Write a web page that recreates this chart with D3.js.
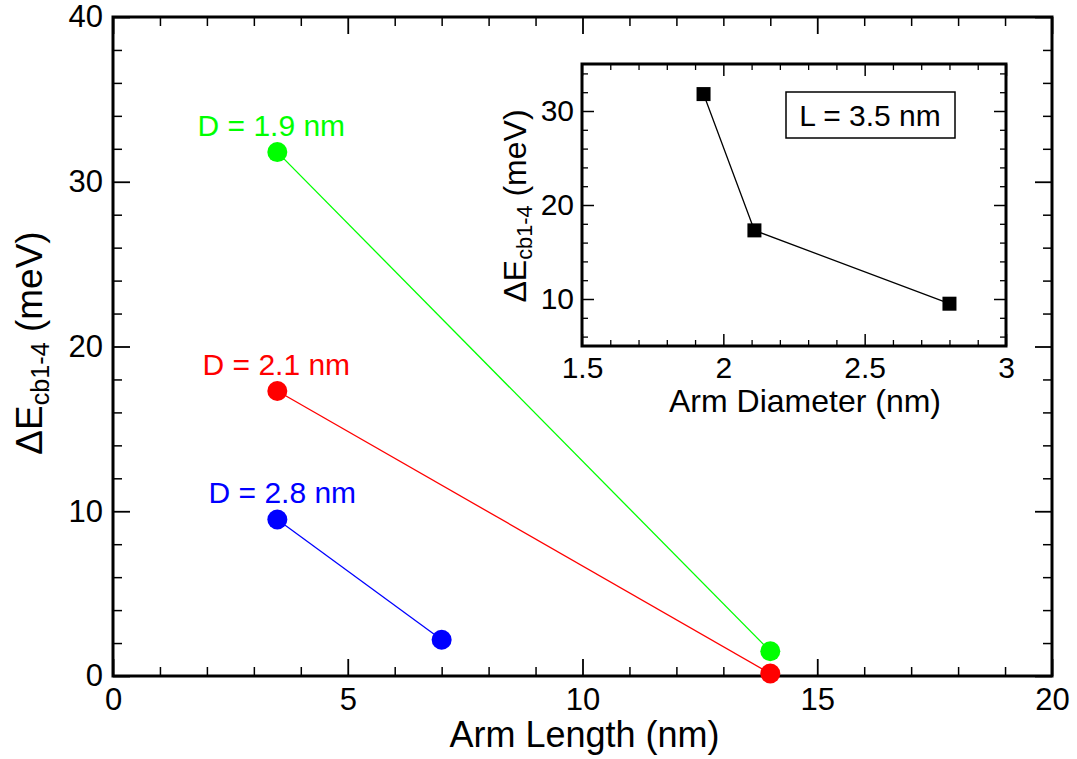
<!DOCTYPE html>
<html>
<head>
<meta charset="utf-8">
<script src="https://cdn.jsdelivr.net/npm/d3@7"></script>
<style>
  body { margin: 0; background: #fff; }
  text { font-family: "Liberation Sans", Arial, sans-serif; fill: #000; }
  .tick line { stroke: #000; }
</style>
</head>
<body>
<div id="container"></div>
<script>
// main chart data: arm length (nm) vs delta E (meV), one series per diameter
var seriesNames = ["D = 1.9 nm", "D = 2.1 nm", "D = 2.8 nm"];
var seriesColors = ["#00ff00", "#ff0000", "#0000ff"];
var lengthD19 = [3.5, 14];
var energyD19 = [31.8, 1.5];
var lengthD21 = [3.5, 14];
var energyD21 = [17.3, 0.15];
var lengthD28 = [3.5, 7];
var energyD28 = [9.5, 2.2];

// inset data: L = 3.5 nm
var insetDiameter = [1.93, 2.11, 2.8];
var insetEnergy = [31.8, 17.3, 9.5];

var xTicks = [0, 5, 10, 15, 20];
var yTicks = [0, 10, 20, 30, 40];
var insetXTicks = [1.5, 2, 2.5, 3];
var insetYTicks = [10, 20, 30];

var w = 1077,
  h = 759;

var svg = d3.select("#container").append("svg")
  .attr("width", w)
  .attr("height", h);

var m = { left: 113, top: 17, right: 1052, bottom: 676 };

var x = d3.scaleLinear().domain([0, 20]).range([m.left, m.right]);
var y = d3.scaleLinear().domain([0, 40]).range([m.bottom, m.top]);

var xMinor = d3.range(0, 21, 1).filter(d => d % 5 !== 0);
var yMinor = d3.range(0, 41, 2).filter(d => d % 10 !== 0);

function styleAxis(g, fontSize, width) {
  g.select(".domain").remove();
  g.selectAll(".tick line").attr("stroke-width", width);
  g.selectAll(".tick text").attr("font-size", fontSize).attr("font-family", null);
}

// main axes, ticks inward on all four sides
svg.append("g").attr("transform", "translate(0," + m.bottom + ")")
  .call(d3.axisBottom(x).tickValues(xTicks).tickSize(-17).tickPadding(12).tickFormat(d => d))
  .call(g => styleAxis(g, 31, 1.8));
svg.append("g").attr("transform", "translate(0," + m.bottom + ")")
  .call(d3.axisBottom(x).tickValues(xMinor).tickSize(-9).tickFormat(""))
  .call(g => styleAxis(g, 31, 1.5));
svg.append("g").attr("transform", "translate(0," + m.top + ")")
  .call(d3.axisTop(x).tickValues(xTicks).tickSize(-17).tickFormat(""))
  .call(g => styleAxis(g, 31, 1.8));
svg.append("g").attr("transform", "translate(0," + m.top + ")")
  .call(d3.axisTop(x).tickValues(xMinor).tickSize(-9).tickFormat(""))
  .call(g => styleAxis(g, 31, 1.5));

svg.append("g").attr("transform", "translate(" + m.left + ",0)")
  .call(d3.axisLeft(y).tickValues(yTicks).tickSize(-17).tickPadding(10).tickFormat(d => d))
  .call(g => styleAxis(g, 31, 1.8));
svg.append("g").attr("transform", "translate(" + m.left + ",0)")
  .call(d3.axisLeft(y).tickValues(yMinor).tickSize(-9).tickFormat(""))
  .call(g => styleAxis(g, 31, 1.5));
svg.append("g").attr("transform", "translate(" + m.right + ",0)")
  .call(d3.axisRight(y).tickValues(yTicks).tickSize(-17).tickFormat(""))
  .call(g => styleAxis(g, 31, 1.8));
svg.append("g").attr("transform", "translate(" + m.right + ",0)")
  .call(d3.axisRight(y).tickValues(yMinor).tickSize(-9).tickFormat(""))
  .call(g => styleAxis(g, 31, 1.5));

svg.append("rect")
  .attr("x", m.left).attr("y", m.top)
  .attr("width", m.right - m.left).attr("height", m.bottom - m.top)
  .attr("fill", "none").attr("stroke", "#000").attr("stroke-width", 3);

// axis titles
svg.append("text")
  .attr("x", (m.left + m.right) / 2 + 2)
  .attr("y", 747)
  .attr("text-anchor", "middle")
  .attr("font-size", 36)
  .text("Arm Length (nm)");

function energyLabel(sel, size) {
  sel.append("tspan").text("\u0394E");
  sel.append("tspan").attr("font-size", size * 0.68).attr("dy", size * 0.19).text("cb1-4");
  sel.append("tspan").attr("dy", -size * 0.19).text(" (meV)");
}

svg.append("text")
  .attr("transform", "translate(42,343) rotate(-90)")
  .attr("text-anchor", "middle")
  .attr("font-size", 37)
  .call(t => energyLabel(t, 37));

// series lines, markers and labels
var series = [
  { name: seriesNames[0], color: seriesColors[0], xs: lengthD19, ys: energyD19, dx: -6 },
  { name: seriesNames[1], color: seriesColors[1], xs: lengthD21, ys: energyD21, dx: -1 },
  { name: seriesNames[2], color: seriesColors[2], xs: lengthD28, ys: energyD28, dx: 5 }
];

var line = d3.line().x(d => x(d[0])).y(d => y(d[1]));

series.forEach(function (s) {
  var pts = s.xs.map((v, i) => [v, s.ys[i]]);
  svg.append("path")
    .datum(pts)
    .attr("d", line)
    .attr("fill", "none")
    .attr("stroke", s.color)
    .attr("stroke-width", 1.3);
  svg.append("g").selectAll("circle")
    .data(pts)
    .enter()
    .append("circle")
    .attr("cx", d => x(d[0]))
    .attr("cy", d => y(d[1]))
    .attr("r", 10)
    .attr("fill", s.color);
  svg.append("text")
    .attr("x", x(pts[0][0]) + s.dx)
    .attr("y", y(pts[0][1]) - 16)
    .attr("text-anchor", "middle")
    .attr("font-size", 30)
    .style("fill", s.color)
    .text(s.name);
});

// inset
var im = { left: 582, top: 64, right: 1006, bottom: 346 };
var ix = d3.scaleLinear().domain([1.5, 3]).range([im.left, im.right]);
var iy = d3.scaleLinear().domain([5, 35]).range([im.bottom, im.top]);

var ixMinor = d3.range(15, 31, 1).map(d => d / 10).filter(d => Math.round(d * 10) % 5 !== 0);
var iyMinor = d3.range(6, 35, 2).filter(d => d % 10 !== 0);

svg.append("rect")
  .attr("x", im.left).attr("y", im.top)
  .attr("width", im.right - im.left).attr("height", im.bottom - im.top)
  .attr("fill", "#fff");

svg.append("g").attr("transform", "translate(0," + im.bottom + ")")
  .call(d3.axisBottom(ix).tickValues(insetXTicks).tickSize(-12).tickPadding(11).tickFormat(d => d))
  .call(g => styleAxis(g, 30, 1.5));
svg.append("g").attr("transform", "translate(0," + im.bottom + ")")
  .call(d3.axisBottom(ix).tickValues(ixMinor).tickSize(-6).tickFormat(""))
  .call(g => styleAxis(g, 30, 1.3));
svg.append("g").attr("transform", "translate(0," + im.top + ")")
  .call(d3.axisTop(ix).tickValues(insetXTicks).tickSize(-12).tickFormat(""))
  .call(g => styleAxis(g, 30, 1.5));
svg.append("g").attr("transform", "translate(0," + im.top + ")")
  .call(d3.axisTop(ix).tickValues(ixMinor).tickSize(-6).tickFormat(""))
  .call(g => styleAxis(g, 30, 1.3));

svg.append("g").attr("transform", "translate(" + im.left + ",0)")
  .call(d3.axisLeft(iy).tickValues(insetYTicks).tickSize(-12).tickPadding(8).tickFormat(d => d))
  .call(g => styleAxis(g, 30, 1.5));
svg.append("g").attr("transform", "translate(" + im.left + ",0)")
  .call(d3.axisLeft(iy).tickValues(iyMinor).tickSize(-6).tickFormat(""))
  .call(g => styleAxis(g, 30, 1.3));
svg.append("g").attr("transform", "translate(" + im.right + ",0)")
  .call(d3.axisRight(iy).tickValues(insetYTicks).tickSize(-12).tickFormat(""))
  .call(g => styleAxis(g, 30, 1.5));
svg.append("g").attr("transform", "translate(" + im.right + ",0)")
  .call(d3.axisRight(iy).tickValues(iyMinor).tickSize(-6).tickFormat(""))
  .call(g => styleAxis(g, 30, 1.3));

svg.append("rect")
  .attr("x", im.left).attr("y", im.top)
  .attr("width", im.right - im.left).attr("height", im.bottom - im.top)
  .attr("fill", "none").attr("stroke", "#000").attr("stroke-width", 3);

var insetPts = insetDiameter.map((d, i) => [d, insetEnergy[i]]);

svg.append("path")
  .datum(insetPts)
  .attr("d", d3.line().x(d => ix(d[0])).y(d => iy(d[1])))
  .attr("fill", "none")
  .attr("stroke", "#000")
  .attr("stroke-width", 1.3);

svg.append("g").selectAll("rect")
  .data(insetPts)
  .enter()
  .append("rect")
  .attr("x", d => ix(d[0]) - 7)
  .attr("y", d => iy(d[1]) - 7)
  .attr("width", 14)
  .attr("height", 14)
  .attr("fill", "#000");

svg.append("text")
  .attr("x", (im.left + im.right) / 2 + 11)
  .attr("y", 412)
  .attr("text-anchor", "middle")
  .attr("font-size", 32)
  .text("Arm Diameter (nm)");

svg.append("text")
  .attr("transform", "translate(526,206) rotate(-90)")
  .attr("text-anchor", "middle")
  .attr("font-size", 32)
  .call(t => energyLabel(t, 32));

// legend box
svg.append("rect")
  .attr("x", 786).attr("y", 92)
  .attr("width", 169).attr("height", 46)
  .attr("fill", "#fff")
  .attr("stroke", "#000")
  .attr("stroke-width", 1.5);
svg.append("text")
  .attr("x", 870)
  .attr("y", 126)
  .attr("text-anchor", "middle")
  .attr("font-size", 30)
  .text("L = 3.5 nm");
</script>
</body>
</html>
